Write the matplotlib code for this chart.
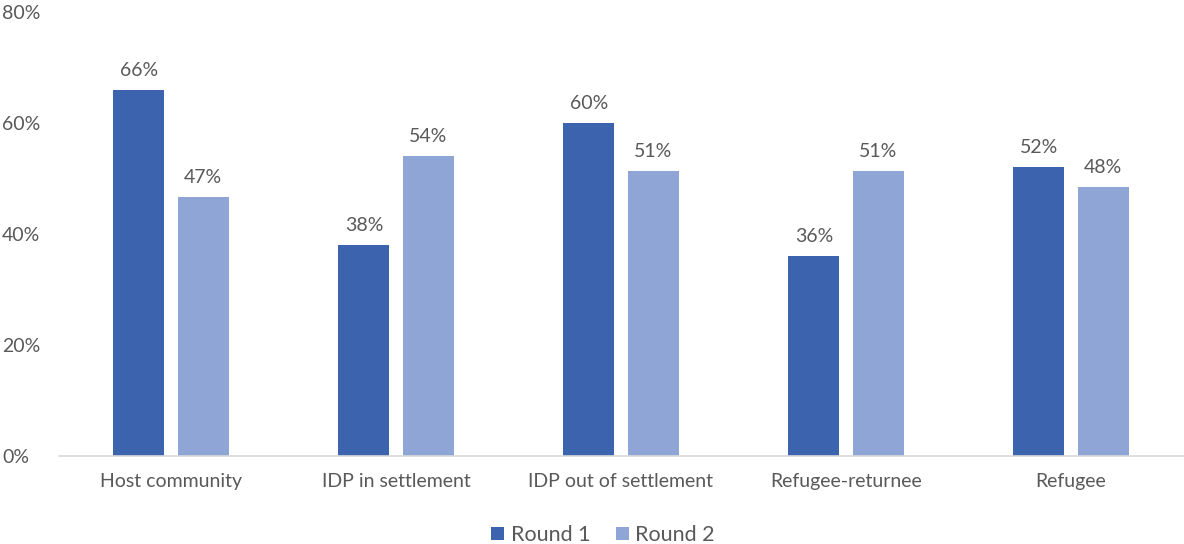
import numpy as np
import matplotlib
matplotlib.use("Agg")
import matplotlib.pyplot as plt
from matplotlib.ticker import FuncFormatter

categories = ["Host community", "IDP in settlement", "IDP out of settlement",
              "Refugee-returnee", "Refugee"]
round1 = [66, 38, 60, 36, 52]
round2 = [46.6, 54, 51.4, 51.3, 48.5]
series_names = ["Round 1", "Round 2"]
colors = ["#3C64AE", "#8FA5D5"]

plt.rcParams["font.family"] = ["Lato", "DejaVu Sans"]
text_color = "#595959"

fig = plt.figure(figsize=(11.84, 5.44), dpi=100)
ax = fig.add_axes([58.5 / 1184, 1 - 456 / 544, 1125 / 1184, 444 / 544])

x = np.arange(len(categories))
width = 0.227
offset = 0.1425
b1 = ax.bar(x - offset, round1, width, color=colors[0], label=series_names[0])
b2 = ax.bar(x + offset, round2, width, color=colors[1], label=series_names[1])

for bars, vals in [(b1, round1), (b2, round2)]:
    for rect, v in zip(bars, vals):
        ax.annotate(f"{round(v):.0f}%", (rect.get_x() + rect.get_width() / 2, v),
                    xytext=(0, 8), textcoords="offset points", ha="center",
                    va="bottom", fontsize=14, color=text_color)

ax.set_xlim(-0.5, len(categories) - 0.5)
ax.set_ylim(0, 80)
ax.set_yticks([0, 20, 40, 60, 80])
ax.yaxis.set_major_formatter(FuncFormatter(lambda v, p: f"{v:.0f}%"))
ax.set_xticks(x)
ax.set_xticklabels(categories)
ax.tick_params(axis="both", length=0, labelsize=14, labelcolor=text_color)
ax.tick_params(axis="x", pad=12)
for lab in ax.get_yticklabels():
    lab.set_horizontalalignment("left")
ax.yaxis.set_tick_params(pad=40.5)

for s in ["top", "right", "left"]:
    ax.spines[s].set_visible(False)
ax.spines["bottom"].set_color("#D9D9D9")
ax.spines["bottom"].set_linewidth(1.2)

leg = fig.legend(handles=[b1, b2], loc="center", bbox_to_anchor=(603 / 1184, 1 - 535 / 544),
                 ncol=2, frameon=False, fontsize=15.5, handlelength=0.6, handleheight=0.6,
                 handletextpad=0.3, columnspacing=1.2)
for t in leg.get_texts():
    t.set_color(text_color)

fig.savefig("out.png", dpi=100)
